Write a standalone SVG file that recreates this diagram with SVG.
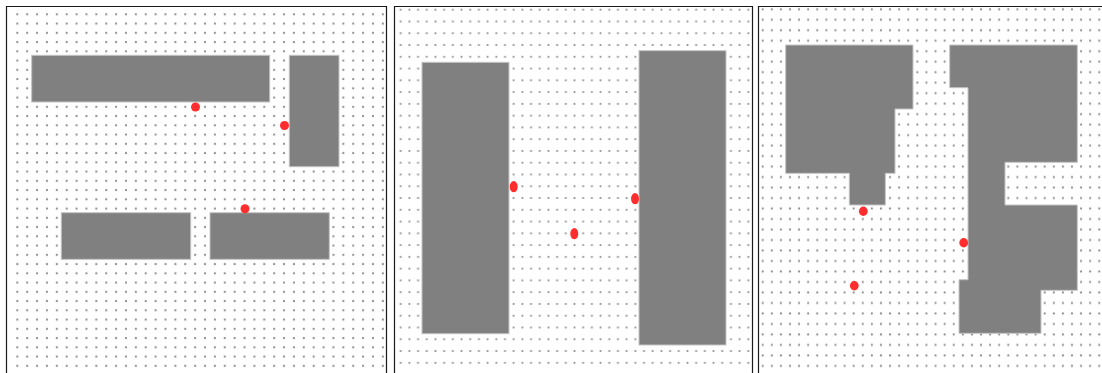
<svg xmlns="http://www.w3.org/2000/svg" width="1102" height="373" viewBox="0 0 1102 373">
  <style>
    .frame { fill: none; stroke: #1a1a1a; stroke-width: 1.2; }
    .obst { fill: #808080; stroke: #c4c4c4; stroke-width: 1; }
    .agent { fill: #ff2e2e; }
    .gd { fill: #8e8e8e; }
  </style>
  <defs>
    <pattern id="grid1" patternUnits="userSpaceOnUse" x="12.36" y="9.68" width="9.88" height="9.25">
      <circle class="gd" cx="4.94" cy="4.625" r="1.1"/>
    </pattern>
    <pattern id="grid2" patternUnits="userSpaceOnUse" x="396.36" y="3.82" width="8.69" height="11.77">
      <circle class="gd" cx="4.345" cy="5.885" r="1.1"/>
    </pattern>
    <pattern id="grid3" patternUnits="userSpaceOnUse" x="758.15" y="4.05" width="9.097" height="10.49">
      <circle class="gd" cx="4.55" cy="5.245" r="1.1"/>
    </pattern>
  </defs>
  <rect width="1102" height="373" fill="#ffffff"/>

  <g id="panel1">
    <rect x="12" y="7" width="374" height="366" fill="url(#grid1)"/>
    <g id="p1-obstacle-a"><rect class="obst" x="31.7" y="55.3" width="238" height="46.7"/></g>
    <g id="p1-obstacle-b"><rect class="obst" x="289.3" y="55.3" width="49.7" height="111.4"/></g>
    <g id="p1-obstacle-c"><rect class="obst" x="61.3" y="212.7" width="129.4" height="46.6"/></g>
    <g id="p1-obstacle-d"><rect class="obst" x="210" y="212.7" width="119.3" height="46.6"/></g>
    <g id="p1-agent-1"><circle class="agent" cx="195.5" cy="107" r="4.5"/></g>
    <g id="p1-agent-2"><circle class="agent" cx="284.5" cy="125.5" r="4.5"/></g>
    <g id="p1-agent-3"><circle class="agent" cx="245" cy="208.8" r="4.5"/></g>
    <path class="frame" d="M6.5,373 V6.5 H386.5 V373"/>
  </g>

  <g id="panel2">
    <rect x="395" y="7" width="357" height="366" fill="url(#grid2)"/>
    <g id="p2-obstacle-left"><rect class="obst" x="422" y="62.3" width="87" height="271.4"/></g>
    <g id="p2-obstacle-right"><rect class="obst" x="639" y="50.7" width="87" height="294.3"/></g>
    <g id="p2-agent-1"><ellipse class="agent" cx="513.7" cy="186.7" rx="4" ry="5.6"/></g>
    <g id="p2-agent-2"><ellipse class="agent" cx="635" cy="198.7" rx="4" ry="5.6"/></g>
    <g id="p2-agent-3"><ellipse class="agent" cx="574.3" cy="233.7" rx="4" ry="5.6"/></g>
    <path class="frame" d="M394.5,373 V6.5 H752.5 V373"/>
  </g>

  <g id="panel3">
    <rect x="759" y="7" width="343" height="366" fill="url(#grid3)"/>
    <g id="p3-obstacle-left"><path class="obst" d="M785.7,45 H913 V109 H895 V173.3 H885.3 V205 H849.3 V173.3 H785.7 Z"/></g>
    <g id="p3-obstacle-right"><path class="obst" d="M949.7,45 H1077.3 V162.3 H1005 V205 H1077.3 V290.3 H1041 V333.3 H959 V279.7 H968 V87.7 H949.7 Z"/></g>
    <g id="p3-agent-1"><ellipse class="agent" cx="863.3" cy="211.3" rx="4.4" ry="4.7"/></g>
    <g id="p3-agent-2"><ellipse class="agent" cx="963.7" cy="242.7" rx="4.4" ry="4.7"/></g>
    <g id="p3-agent-3"><ellipse class="agent" cx="854.3" cy="285.7" rx="4.4" ry="4.7"/></g>
    <path class="frame" d="M758.5,373 V6.5 H1102"/>
  </g>
</svg>
